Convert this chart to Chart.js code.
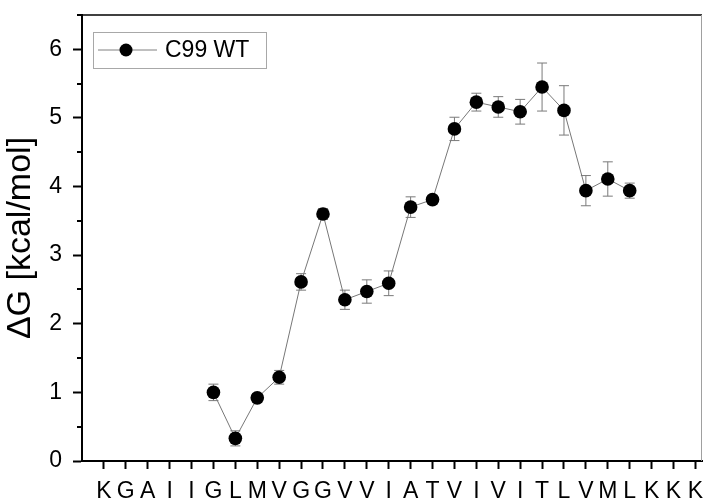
<!DOCTYPE html>
<html>
<head>
    <title>C99 WT free energy</title>
    <script src="https://cdn.jsdelivr.net/npm/chart.js"></script>
    <style>
        body { margin: 0; background: #fff; }
    </style>
</head>
<body>
    <canvas id="chart" width="704" height="504"></canvas>

    <script>
        // residue labels along the x axis
        const residues = ['K','G','A','I','I','G','L','M','V','G','G','V','V','I',
                          'A','T','V','I','V','I','T','L','V','M','L','K','K','K'];
        // dG values (kcal/mol), null = not measured
        const dG = [null, null, null, null, null, 1.00, 0.33, 0.92, 1.22, 2.61, 3.60, 2.35, 2.47, 2.59,
                    3.70, 3.81, 4.84, 5.23, 5.16, 5.09, 5.45, 5.11, 3.94, 4.11, 3.94, null, null, null];
        // error bars (+/-)
        const dGErr = [null, null, null, null, null, 0.12, 0.11, 0.06, 0.10, 0.12, 0.08, 0.14, 0.17, 0.18,
                       0.15, 0.06, 0.17, 0.13, 0.15, 0.18, 0.35, 0.36, 0.22, 0.25, 0.11, null, null, null];
        const seriesLabel = 'C99 WT';

        const points = [];
        dG.forEach((v, i) => {
            if (v !== null) points.push({ x: i, y: v, err: dGErr[i] });
        });

        const font = 'Liberation Sans, Arial, sans-serif';

        const errorBars = {
            id: 'errorBars',
            beforeDatasetsDraw(chart) {
                const { ctx, scales: { x, y } } = chart;
                ctx.save();
                ctx.strokeStyle = '#7a7a7a';
                ctx.lineWidth = 1;
                chart.data.datasets[0].data.forEach(p => {
                    const px = x.getPixelForValue(p.x);
                    const top = y.getPixelForValue(p.y + p.err);
                    const bot = y.getPixelForValue(p.y - p.err);
                    ctx.beginPath();
                    ctx.moveTo(px, top); ctx.lineTo(px, bot);
                    ctx.moveTo(px - 5, top); ctx.lineTo(px + 5, top);
                    ctx.moveTo(px - 5, bot); ctx.lineTo(px + 5, bot);
                    ctx.stroke();
                });
                ctx.restore();
            }
        };

        // frame, minor ticks and the boxed legend
        const decorations = {
            id: 'decorations',
            afterDraw(chart) {
                const { ctx, chartArea: a, scales: { y } } = chart;
                ctx.save();
                // top and right frame
                ctx.strokeStyle = '#000';
                ctx.lineWidth = 1.5;
                ctx.beginPath();
                ctx.moveTo(a.left, a.top); ctx.lineTo(a.right, a.top);
                ctx.stroke();
                ctx.strokeStyle = '#a0a0a0';
                ctx.lineWidth = 1;
                ctx.beginPath();
                ctx.moveTo(a.right - 0.5, a.top); ctx.lineTo(a.right - 0.5, a.bottom);
                ctx.stroke();

                // minor y ticks
                ctx.strokeStyle = '#000';
                ctx.lineWidth = 2;
                y.ticks.forEach(t => {
                    if (Number.isInteger(t.value)) return;
                    const py = Math.round(y.getPixelForValue(t.value));
                    ctx.beginPath();
                    ctx.moveTo(a.left - 5, py); ctx.lineTo(a.left, py);
                    ctx.stroke();
                });

                // legend
                const bx = a.left + 11, by = a.top + 17, bw = 173, bh = 36;
                const cy = by + bh / 2;
                ctx.strokeStyle = '#a8a8a8';
                ctx.lineWidth = 1;
                ctx.strokeRect(bx + 0.5, by + 0.5, bw, bh);
                ctx.strokeStyle = '#808080';
                ctx.beginPath();
                ctx.moveTo(bx + 5, cy); ctx.lineTo(bx + 64, cy);
                ctx.stroke();
                ctx.fillStyle = '#000';
                ctx.beginPath();
                ctx.arc(bx + 33, cy, 6.5, 0, Math.PI * 2);
                ctx.fill();
                ctx.font = '23px ' + font;
                ctx.textBaseline = 'middle';
                ctx.fillText(chart.data.datasets[0].label, bx + 72, cy + 1);
                ctx.restore();
            }
        };

        new Chart(document.getElementById('chart'), {
            type: 'line',
            data: {
                datasets: [{
                    label: seriesLabel,
                    data: points,
                    borderColor: '#777',
                    borderWidth: 1,
                    pointRadius: 6.8,
                    pointHoverRadius: 6.8,
                    pointBackgroundColor: '#000',
                    pointBorderColor: '#000',
                    pointBorderWidth: 0,
                    tension: 0
                }]
            },
            options: {
                responsive: false,
                animation: false,
                layout: { autoPadding: false, padding: { top: 15, right: 2, left: 0, bottom: 0 } },
                plugins: {
                    legend: { display: false },
                    tooltip: { enabled: false }
                },
                scales: {
                    x: {
                        type: 'linear',
                        min: -1,
                        max: 27.3,
                        afterBuildTicks: s => {
                            s.ticks = residues.map((_, i) => ({ value: i }));
                        },
                        afterFit: s => {
                            s.height = 43;
                            s.paddingLeft = 0;
                            s.paddingRight = 0;
                        },
                        border: { color: '#000', width: 2 },
                        grid: { display: true, drawOnChartArea: false, tickLength: 8, tickWidth: 2, tickColor: '#000' },
                        ticks: {
                            autoSkip: false,
                            maxRotation: 0,
                            padding: 9,
                            color: '#000',
                            font: { family: font, size: 23 },
                            callback: v => residues[v]
                        }
                    },
                    y: {
                        min: 0,
                        max: 6.5,
                        afterFit: s => {
                            s.width = 82;
                            s.paddingTop = 0;
                            s.paddingBottom = 0;
                        },
                        border: { color: '#000', width: 2 },
                        grid: {
                            display: true, drawOnChartArea: false, tickLength: 9, tickWidth: 2,
                            tickColor: c => Number.isInteger(c.tick.value) ? '#000' : 'rgba(0,0,0,0)'
                        },
                        ticks: {
                            stepSize: 0.5,
                            padding: 11,
                            color: '#000',
                            font: { family: font, size: 23 },
                            callback: v => Number.isInteger(v) ? v : ''
                        },
                        title: {
                            display: true,
                            text: 'ΔG [kcal/mol]',
                            color: '#000',
                            font: { family: font, size: 34 },
                            padding: { top: 0, bottom: 0 }
                        }
                    }
                }
            },
            plugins: [errorBars, decorations]
        });
    </script>
</body>
</html>
